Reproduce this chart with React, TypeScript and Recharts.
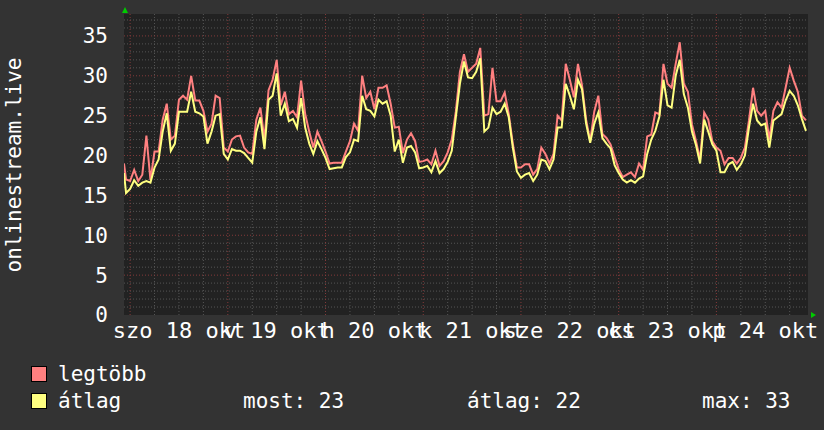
import React from "react";
import { LineChart, Line, XAxis, YAxis, ReferenceLine, ReferenceArea } from "recharts";

// time in hours from midnight, 18 okt
const HOURS = [-1.5, ...Array.from({ length: 168 }, (_, i) => i - 1)];

const MAX_VALUES = [
  19.0, 17.0, 16.8, 18.2, 16.8, 17.6, 22.5, 16.9, 20.5, 20.5, 24.5, 26.5, 22.0, 22.5, 27.0, 27.5, 27.0, 30.0, 26.9, 26.9,
  25.6, 23.0, 24.0, 27.5, 27.2, 21.0, 20.5, 22.0, 22.4, 22.5, 21.0, 20.4, 20.2, 24.5, 26.0, 22.0, 28.2, 29.5, 32.0, 26.3,
  28.0, 25.2, 25.6, 24.8, 29.4, 25.2, 23.0, 21.0, 23.0, 21.8, 20.5, 19.0, 19.1, 19.1, 19.1, 20.5, 21.8, 24.0, 23.1, 30.0,
  27.2, 28.0, 25.8, 28.5, 28.5, 28.8, 26.5, 23.5, 23.6, 20.3, 22.0, 22.8, 21.8, 19.2, 19.3, 19.5, 18.9, 20.6, 18.7, 19.3,
  20.4, 22.0, 25.5, 30.5, 32.7, 30.5, 31.0, 31.5, 33.5, 25.0, 25.2, 31.0, 26.8, 26.8, 27.9, 25.2, 21.5, 18.5, 18.5, 18.9,
  18.9, 17.6, 18.3, 21.0, 20.2, 19.0, 20.2, 25.0, 24.4, 31.5, 29.5, 27.3, 31.5, 28.8, 24.5, 21.8, 25.5, 27.5, 22.7, 22.2,
  21.4, 19.8, 18.3, 17.3, 17.6, 17.9, 17.3, 19.0, 18.2, 22.4, 22.6, 25.4, 25.2, 31.5, 29.0, 28.5, 31.5, 34.2, 29.0, 28.0,
  23.9, 21.8, 19.5, 25.4, 24.5, 21.8, 21.0, 20.6, 18.9, 19.7, 19.7, 19.0, 19.7, 21.0, 24.4, 28.5, 25.6, 25.0, 25.6, 22.0,
  25.6, 26.7, 26.0, 28.5, 31.0, 29.4, 28.0, 25.0, 24.4,
];

const AVG_VALUES = [
  17.8, 15.3, 15.8, 16.9, 16.2, 16.6, 16.8, 16.6, 18.5, 19.5, 23.0, 25.3, 20.6, 21.5, 25.5, 25.5, 25.5, 28.0, 25.5, 25.3,
  24.9, 21.5, 23.0, 25.0, 25.2, 20.2, 19.5, 20.8, 20.6, 20.6, 20.3, 19.7, 19.1, 23.0, 24.8, 20.8, 27.0, 27.5, 30.3, 25.0,
  26.5, 24.3, 24.6, 23.5, 27.2, 23.5, 21.5, 20.2, 21.8, 20.8, 19.7, 18.3, 18.4, 18.5, 18.5, 19.8, 20.4, 22.0, 21.8, 27.5,
  25.8, 25.6, 24.9, 27.0, 26.5, 26.8, 25.0, 20.5, 22.0, 19.1, 21.0, 21.2, 20.4, 18.4, 18.5, 18.7, 17.9, 19.3, 17.8, 18.3,
  19.2, 20.6, 24.8, 29.0, 31.8, 29.8, 29.7, 30.5, 32.2, 23.0, 23.5, 26.0, 25.2, 25.5, 26.5, 24.8, 21.0, 18.0, 17.2, 17.6,
  17.8, 16.8, 17.6, 19.5, 19.3, 18.3, 19.5, 23.5, 23.5, 29.0, 27.5, 25.8, 29.5, 28.3, 24.0, 21.6, 24.0, 25.4, 22.2, 21.5,
  20.9, 18.8, 17.8, 17.0, 16.6, 16.9, 16.6, 17.1, 17.4, 20.2, 22.0, 23.1, 24.9, 29.5, 26.3, 26.0, 30.0, 32.0, 27.7, 26.0,
  23.0, 21.3, 19.0, 24.5, 23.0, 21.4, 20.6, 17.9, 17.9, 18.9, 19.2, 18.2, 18.9, 20.0, 23.5, 26.5, 24.4, 23.8, 24.0, 21.0,
  24.4, 24.8, 25.2, 26.9, 28.1, 27.5, 26.3, 24.6, 23.1,
];

const DAY_TICKS = [12, 36, 60, 84, 108, 132, 156];
const DAY_LABELS = ["szo 18 okt", "v 19 okt", "h 20 okt", "k 21 okt", "sze 22 okt", "cs 23 okt", "p 24 okt"];
const Y_TICKS = [0, 5, 10, 15, 20, 25, 30, 35];

const X_MIN = -1.5;
const X_MAX = 166.5;
const Y_MAX = 37.75;

const MONO = "'DejaVu Sans Mono', monospace";
const RED = "#ff8080";
const YELLOW = "#ffff80";

const data = HOURS.map((h, i) => ({ h, max: MAX_VALUES[i], avg: AVG_VALUES[i] }));

const minorY = Array.from({ length: 37 }, (_, i) => i + 1).filter((v) => v % 5 !== 0);
const majorY = Y_TICKS.filter((v) => v > 0);
const minorX = Array.from({ length: 28 }, (_, i) => i * 6).filter((v) => v % 24 !== 0);
const majorX = Array.from({ length: 7 }, (_, i) => i * 24);

export default function App() {
  return (
    <div style={{ position: "absolute", left: 0, top: 0, width: 824, height: 430, background: "#333333" }}>
      <LineChart width={824} height={430} data={data} margin={{ top: 14, right: 16, left: 0, bottom: 0 }}>
        <XAxis
          type="number"
          dataKey="h"
          domain={[X_MIN, X_MAX]}
          allowDataOverflow
          ticks={DAY_TICKS}
          interval={0}
          tickFormatter={(v) => DAY_LABELS[DAY_TICKS.indexOf(v)] ?? ""}
          axisLine={false}
          tickLine={false}
          tickSize={0}
          tickMargin={7}
          height={115}
          tick={{ fill: "#ffffff", fontSize: 22, fontFamily: MONO }}
        />
        <YAxis
          type="number"
          domain={[0, Y_MAX]}
          allowDataOverflow
          ticks={Y_TICKS}
          interval={0}
          axisLine={false}
          tickLine={false}
          tickSize={0}
          tickMargin={16}
          width={124}
          tick={{ fill: "#ffffff", fontSize: 21, fontFamily: MONO }}
        />
        <ReferenceArea x1={X_MIN} x2={X_MAX} y1={0} y2={Y_MAX} fill="#222222" fillOpacity={1} stroke="none" />
        {minorY.map((v) => (
          <ReferenceLine key={"my" + v} y={v} stroke="#555555" strokeDasharray="1 2" />
        ))}
        {minorX.map((v) => (
          <ReferenceLine key={"mx" + v} x={v} stroke="#555555" strokeDasharray="1 2" />
        ))}
        {majorY.map((v) => (
          <ReferenceLine key={"My" + v} y={v} stroke="#843a3a" strokeDasharray="1 2" />
        ))}
        {majorX.map((v) => (
          <ReferenceLine key={"Mx" + v} x={v} stroke="#843a3a" strokeDasharray="1 2" />
        ))}
        <Line type="linear" dataKey="max" stroke={RED} strokeWidth={2} dot={false} isAnimationActive={false} />
        <Line type="linear" dataKey="avg" stroke={YELLOW} strokeWidth={2} dot={false} isAnimationActive={false} />
      </LineChart>

      <svg
        width={824}
        height={430}
        style={{ position: "absolute", left: 0, top: 0, pointerEvents: "none" }}
        fontFamily={MONO}
      >
        <polygon points="122,13 128,13 125,7" fill="#00cc00" />
        <polygon points="811,312 811,318 816,315" fill="#00cc00" />
        <text x={21} y={165} fill="#ffffff" fontSize={21} textAnchor="middle" transform="rotate(-90 21 165)">
          onlinestream.live
        </text>
        <rect x={31.5} y={366.5} width={15} height={15} fill={RED} stroke="#000" />
        <rect x={31.5} y={393.5} width={15} height={15} fill={YELLOW} stroke="#000" />
        <g fill="#ffffff" fontSize={21}>
          <text x={58} y={381}>legtöbb</text>
          <text x={58} y={408}>átlag</text>
          <text x={243} y={408}>most: 23</text>
          <text x={467} y={408}>átlag: 22</text>
          <text x={702} y={408}>max: 33</text>
        </g>
      </svg>
    </div>
  );
}
